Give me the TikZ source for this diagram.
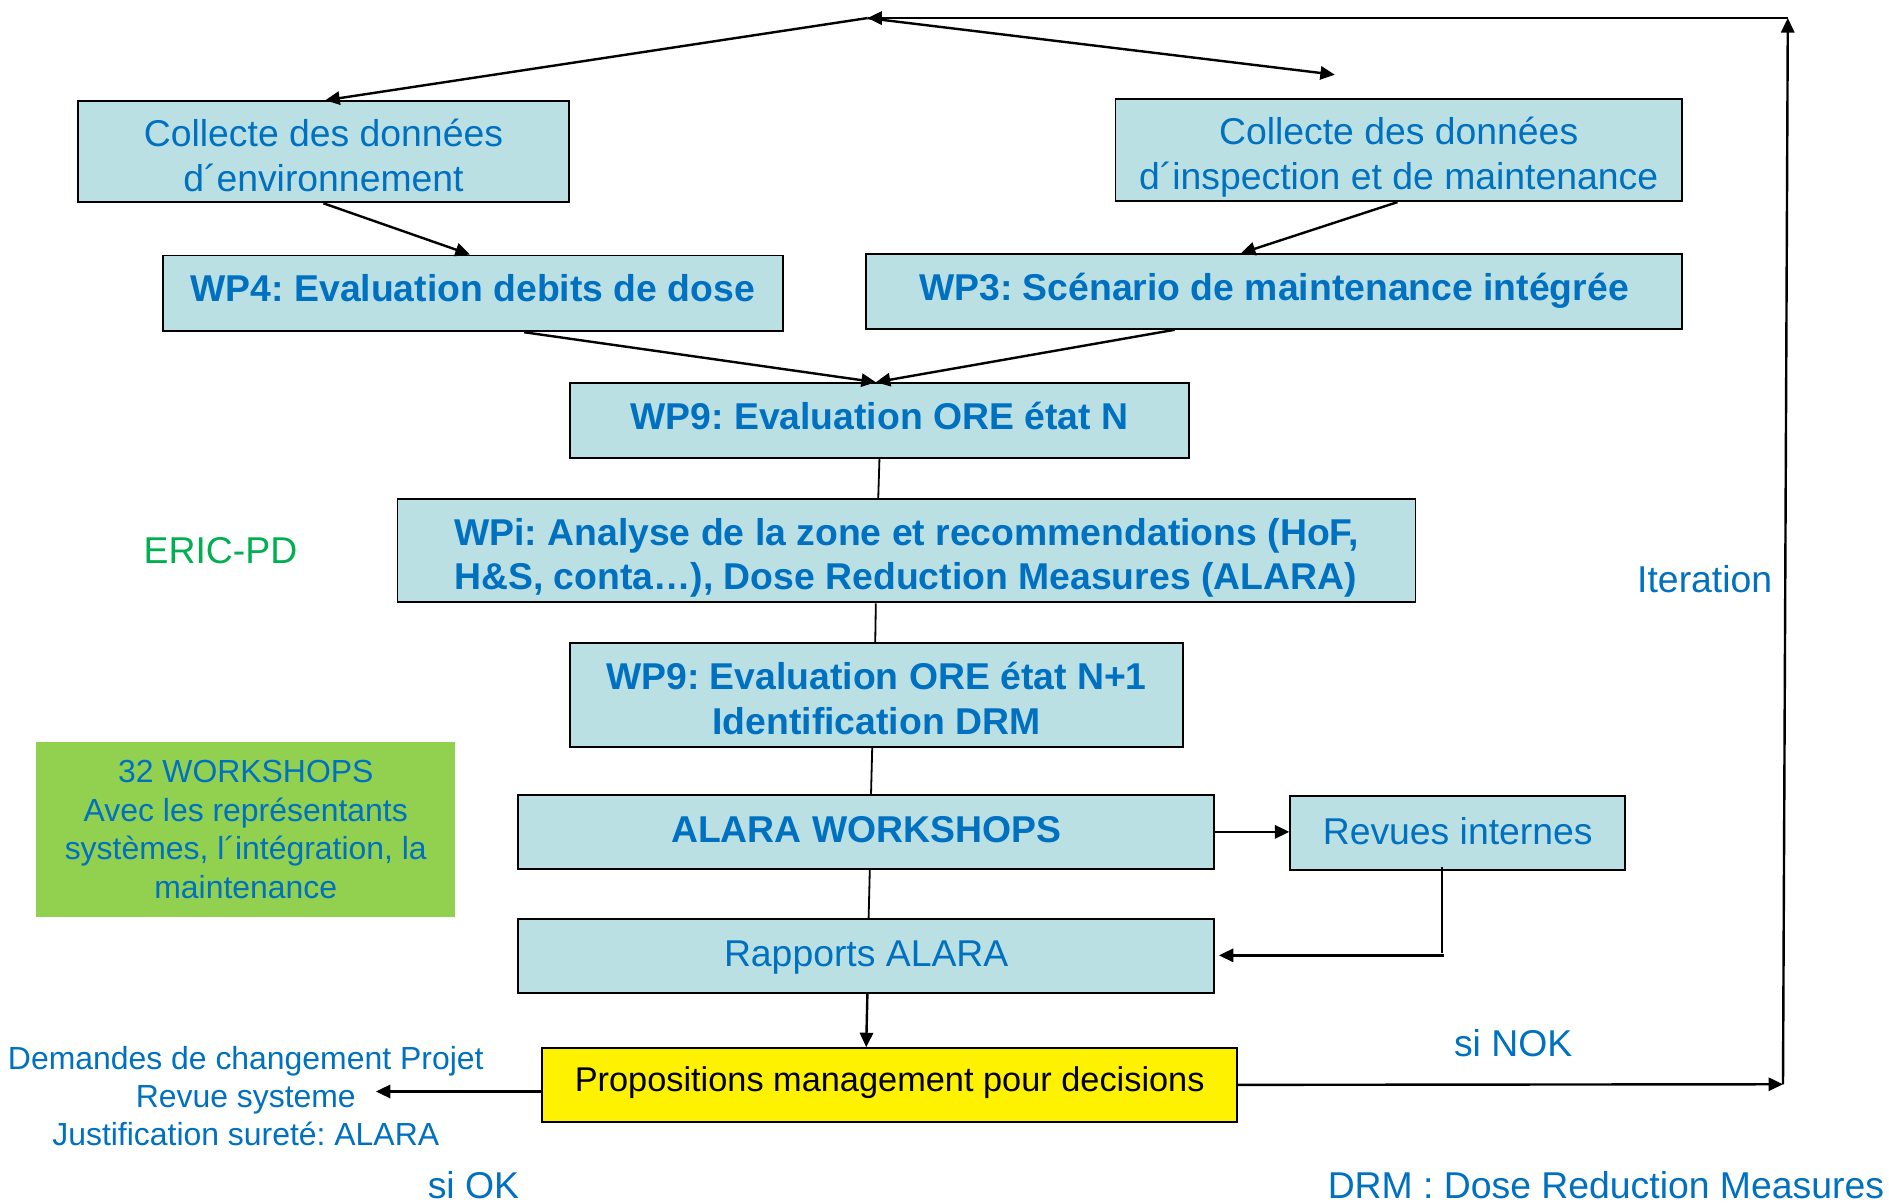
\documentclass[tikz,border=0pt]{standalone}
\usepackage{fontspec}
\setmainfont{Liberation Sans}
\usetikzlibrary{arrows.meta,calc}
\frenchspacing
\definecolor{boxfill}{RGB}{187,224,227}
\definecolor{txtblue}{RGB}{0,112,192}
\definecolor{wsgreen}{RGB}{146,208,80}
\definecolor{ericgreen}{RGB}{0,176,80}
\tikzset{
  bx/.style={draw=black, line width=1.5pt, fill=boxfill, inner sep=0pt},
  tx/.style={text=txtblue, inner sep=0pt, align=center, font={\fontsize{31}{37}\selectfont}},
  txb/.style={tx, font={\fontsize{31}{37}\selectfont\bfseries}},
  arr/.style={line width=2pt, -{Triangle[length=12pt,width=11pt]}},
  link/.style={line width=1.5pt},
  lbl/.style={text=txtblue, inner sep=0pt, align=center, font={\fontsize{31}{37}\selectfont}},
  small/.style={text=txtblue, inner sep=0pt, align=center, font={\fontsize{26.5}{31.5}\selectfont}},
}
\begin{document}
\begin{tikzpicture}[x=1pt,y=-1pt]
\fill[white] (0,0) rectangle (1568,999);
\useasboundingbox (0,0) rectangle (1568,999);

% process boxes (text placed as a centred label, nudged vertically)
\node[bx, minimum width=407, minimum height=84,
  label={[tx, yshift=-3pt]center:{Collecte des données\\d´environnement}}] (env) at (268.5,126) {};
\node[bx, minimum width=470, minimum height=85,
  label={[tx, yshift=-6pt]center:{Collecte des données\\d´inspection et de maintenance}}] (insp) at (1161,124.5) {};
\node[bx, minimum width=515, minimum height=63,
  label={[txb, yshift=4pt]center:{WP4: Evaluation debits de dose}}] (wp4) at (392.5,243.5) {};
\node[bx, minimum width=677, minimum height=62,
  label={[txb, yshift=1pt]center:{WP3: Scénario de maintenance intégrée}}] (wp3) at (1057.5,242) {};
\node[bx, minimum width=514, minimum height=62,
  label={[txb, yshift=4pt]center:{WP9: Evaluation ORE état N}}] (wp9a) at (730,349) {};
\node[bx, minimum width=845, minimum height=86,
  label={[txb, align=left, yshift=-6pt]center:{WPi: Analyse de la zone et recommendations (HoF,\\H\&S, conta…), Dose Reduction Measures (ALARA)}}] (wpi) at (752.5,457) {};
\node[bx, minimum width=509, minimum height=86,
  label={[txb, yshift=-3pt]center:{WP9: Evaluation ORE état N+1\\Identification DRM}}] (wp9b) at (727.5,577) {};
\node[bx, minimum width=578, minimum height=61,
  label={[txb, yshift=2pt]center:{ALARA WORKSHOPS}}] (alaraws) at (719,690.5) {};
\node[bx, minimum width=278, minimum height=61,
  label={[tx, yshift=2pt]center:{Revues internes}}] (revues) at (1210,691.5) {};
\node[bx, minimum width=578, minimum height=61,
  label={[tx, yshift=-1pt]center:{Rapports ALARA}}] (rapports) at (719,793.5) {};
\node[bx, fill=yellow, minimum width=577, minimum height=61,
  label={[tx, text=black, font={\fontsize{28.5}{34}\selectfont}, yshift=2pt]center:{Propositions management pour decisions}}] (props) at (738.5,900.5) {};

% workshop note
\node[fill=wsgreen, minimum width=348, minimum height=145, inner sep=0pt,
  text=txtblue, align=center, font={\fontsize{26.5}{32}\selectfont}] (ws) at (204,688.5)
  {32 WORKSHOPS\\Avec les représentants\\systèmes, l´intégration, la\\maintenance};

% free labels
\node[lbl, text=ericgreen] (eric) at (183,457) {ERIC-PD};
\node[lbl] (iter) at (1415,481) {Iteration};
\node[lbl] (nok) at (1256,866) {si NOK};
\node[lbl] (ok) at (393,984) {si OK};
\node[lbl] (drm) at (1333,984) {DRM : Dose Reduction Measures};
\node[small] (dem) at (204,910)
  {Demandes de changement Projet\\Revue systeme\\Justification sureté: ALARA};

% connector points
\coordinate (top) at (720,15);
\coordinate (topr) at (1484,15);
\coordinate (botr) at (1480,900);
\coordinate (free) at (1108,62);
\coordinate (merge) at ([xshift=-3]wp9a.north);
\coordinate (rv1) at (1197,720);
\coordinate (rv2) at (1197,791);
\coordinate (rv3) at (1199,793);
\coordinate (okend) at (312,906);

% iteration loop
\draw[arr] (props.east) -- (botr);
\draw[arr] (botr) -- (topr);
\draw[arr] (topr) -- (top);
\draw[arr] (top) -- ([xshift=1.5]env.north);
\draw[arr] (top) -- (free);

% data collection to work packages
\draw[arr] (env.south) -- ([xshift=-2.5]wp4.north);
\draw[arr] ([xshift=-1]insp.south) -- ([xshift=-27.5]wp3.north);
\draw[arr] ([xshift=42.5]wp4.south) -- (merge);
\draw[arr] ([xshift=-82.5]wp3.south) -- (merge);

% main chain
\draw[link] (wp9a.south) -- ([xshift=-23.5]wpi.north);
\draw[link] ([xshift=-25.5]wpi.south) -- ([xshift=-1]wp9b.north);
\draw[link] ([xshift=-3.5]wp9b.south) -- ([xshift=4]alaraws.north);
\draw[link] ([xshift=3]alaraws.south) -- ([xshift=2]rapports.north);
\draw[arr] ([xshift=1]rapports.south) -- ([xshift=-19.5]props.north);

% internal reviews
\draw[arr] (alaraws.east) -- (alaraws.east -| revues.west);
\draw[line width=1pt] (rv1) -- (rv2);
\draw[arr] (rv3) -- ([xshift=3]rapports.east |- rv3);

% decision outputs
\draw[arr] (props.west |- okend) -- (okend);
\end{tikzpicture}
\end{document}
